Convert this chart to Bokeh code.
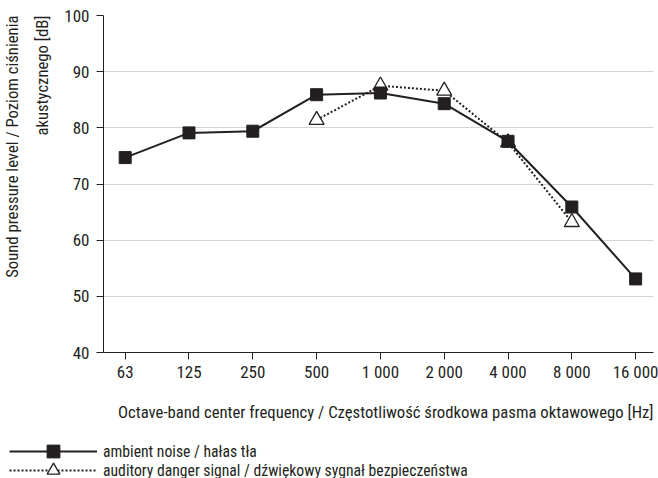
from bokeh.plotting import figure
from bokeh.layouts import column
from bokeh.models import Legend, LegendItem, FixedTicker, Range1d, Title
from bokeh.embed import file_html
from bokeh.resources import INLINE

FONT = "Roboto Condensed, DejaVu Sans Condensed, Liberation Sans Narrow, Roboto"
INK = "#231f20"

freq_labels = ["63", "125", "250", "500", "1 000", "2 000", "4 000", "8 000", "16 000"]
ambient_noise = [74.7, 79.1, 79.4, 85.9, 86.2, 84.3, 77.6, 65.9, 53.1]
signal_freqs = ["500", "1 000", "2 000", "4 000", "8 000"]
danger_signal = [81.4, 87.5, 86.6, 77.4, 63.2]
y_ticks = [40, 50, 60, 70, 80, 90, 100]

x_amb = list(range(len(freq_labels)))
x_sig = [freq_labels.index(f) for f in signal_freqs]

SIG_LINE = dict(line_color=INK, line_width=2, line_dash="2 2")
SIG_MARK = dict(marker="triangle", fill_color="white", line_color=INK, line_width=1.3)
AMB_LINE = dict(line_color=INK, line_width=2)
AMB_MARK = dict(marker="square", fill_color=INK, line_color=INK)

p = figure(width=658, height=440, output_backend="svg", toolbar_location=None,
           x_range=Range1d(-0.34, 8.28), y_range=Range1d(40, 100),
           min_border_left=98, min_border_right=5, min_border_top=15, min_border_bottom=88)
p.outline_line_color = None
p.background_fill_color = "white"
p.border_fill_color = "white"

# dotted series first (below)
p.line(x_sig, danger_signal, **SIG_LINE)
p.scatter(x_sig, danger_signal, size=15, **SIG_MARK)
p.line(x_amb, ambient_noise, **AMB_LINE)
p.scatter(x_amb, ambient_noise, size=12, **AMB_MARK)

# axes
p.xaxis.ticker = FixedTicker(ticks=x_amb)
p.xaxis.major_label_overrides = {i: lab for i, lab in enumerate(freq_labels)}
p.yaxis.ticker = FixedTicker(ticks=y_ticks)
for ax in (p.xaxis[0], p.yaxis[0]):
    ax.axis_line_color = INK
    ax.axis_line_width = 1
    ax.major_tick_line_color = INK
    ax.major_tick_out = 7
    ax.major_tick_in = 0
    ax.minor_tick_line_color = None
    ax.major_label_text_font = FONT
    ax.major_label_text_font_size = "17px"
    ax.major_label_text_color = INK
p.xaxis.major_label_standoff = 2
p.yaxis.major_label_standoff = 7

p.xgrid.grid_line_color = None
p.ygrid.grid_line_color = "#d4d4d4"
p.ygrid.grid_line_width = 1
p.ygrid.ticker = FixedTicker(ticks=y_ticks)

# y-axis title: two lines, each right-aligned toward the top
for txt, so in (("akustycznego [dB]", 19), ("Sound pressure level / Poziom ciśnienia", 0)):
    p.add_layout(Title(text=txt, align="right", standoff=so,
                       text_font=FONT, text_font_size="16.7px", text_font_style="normal",
                       text_color=INK), "left")

# x-axis title
p.add_layout(Title(text="Octave-band center frequency / Częstotliwość środkowa pasma oktawowego [Hz]",
                   align="right", standoff=32,
                   text_font=FONT, text_font_size="16.7px", text_font_style="normal",
                   text_color=INK), "below")

# legend strip below the chart (its renderers hold the series but lie outside its view)
lg = figure(width=658, height=38, output_backend="svg", toolbar_location=None,
            x_range=Range1d(-100, -99), y_range=Range1d(0, 1),
            min_border_left=0, min_border_right=0, min_border_top=0, min_border_bottom=0)
if "frame_align" in lg.properties():
    lg.frame_align = False
    p.frame_align = False
lg.axis.visible = False
lg.grid.grid_line_color = None
lg.outline_line_color = None
la1 = lg.line(x_amb, ambient_noise, **AMB_LINE)
la2 = lg.scatter(x_amb, ambient_noise, size=12, **AMB_MARK)
ls1 = lg.line(x_sig, danger_signal, **SIG_LINE)
ls2 = lg.scatter(x_sig, danger_signal, size=15, **SIG_MARK)

LEG = dict(orientation="vertical", glyph_width=88, glyph_height=32, spacing=0,
           label_standoff=6, label_height=14, padding=0, margin=0,
           border_line_color=None, background_fill_alpha=0,
           label_text_font=FONT, label_text_font_size="15.7px", label_text_color=INK,
           label_text_baseline="middle")
lg.add_layout(Legend(items=[LegendItem(label="ambient noise / hałas tła",
                                       renderers=[la1, la2])],
                     location=(9, 11), **LEG), "center")
lg.add_layout(Legend(items=[LegendItem(label="auditory danger signal / dźwiękowy sygnał bezpieczeństwa",
                                       renderers=[ls1, ls2])],
                     location=(9, -8), **LEG), "center")

open("out.html", "w").write(file_html(column(p, lg, spacing=0), INLINE))
